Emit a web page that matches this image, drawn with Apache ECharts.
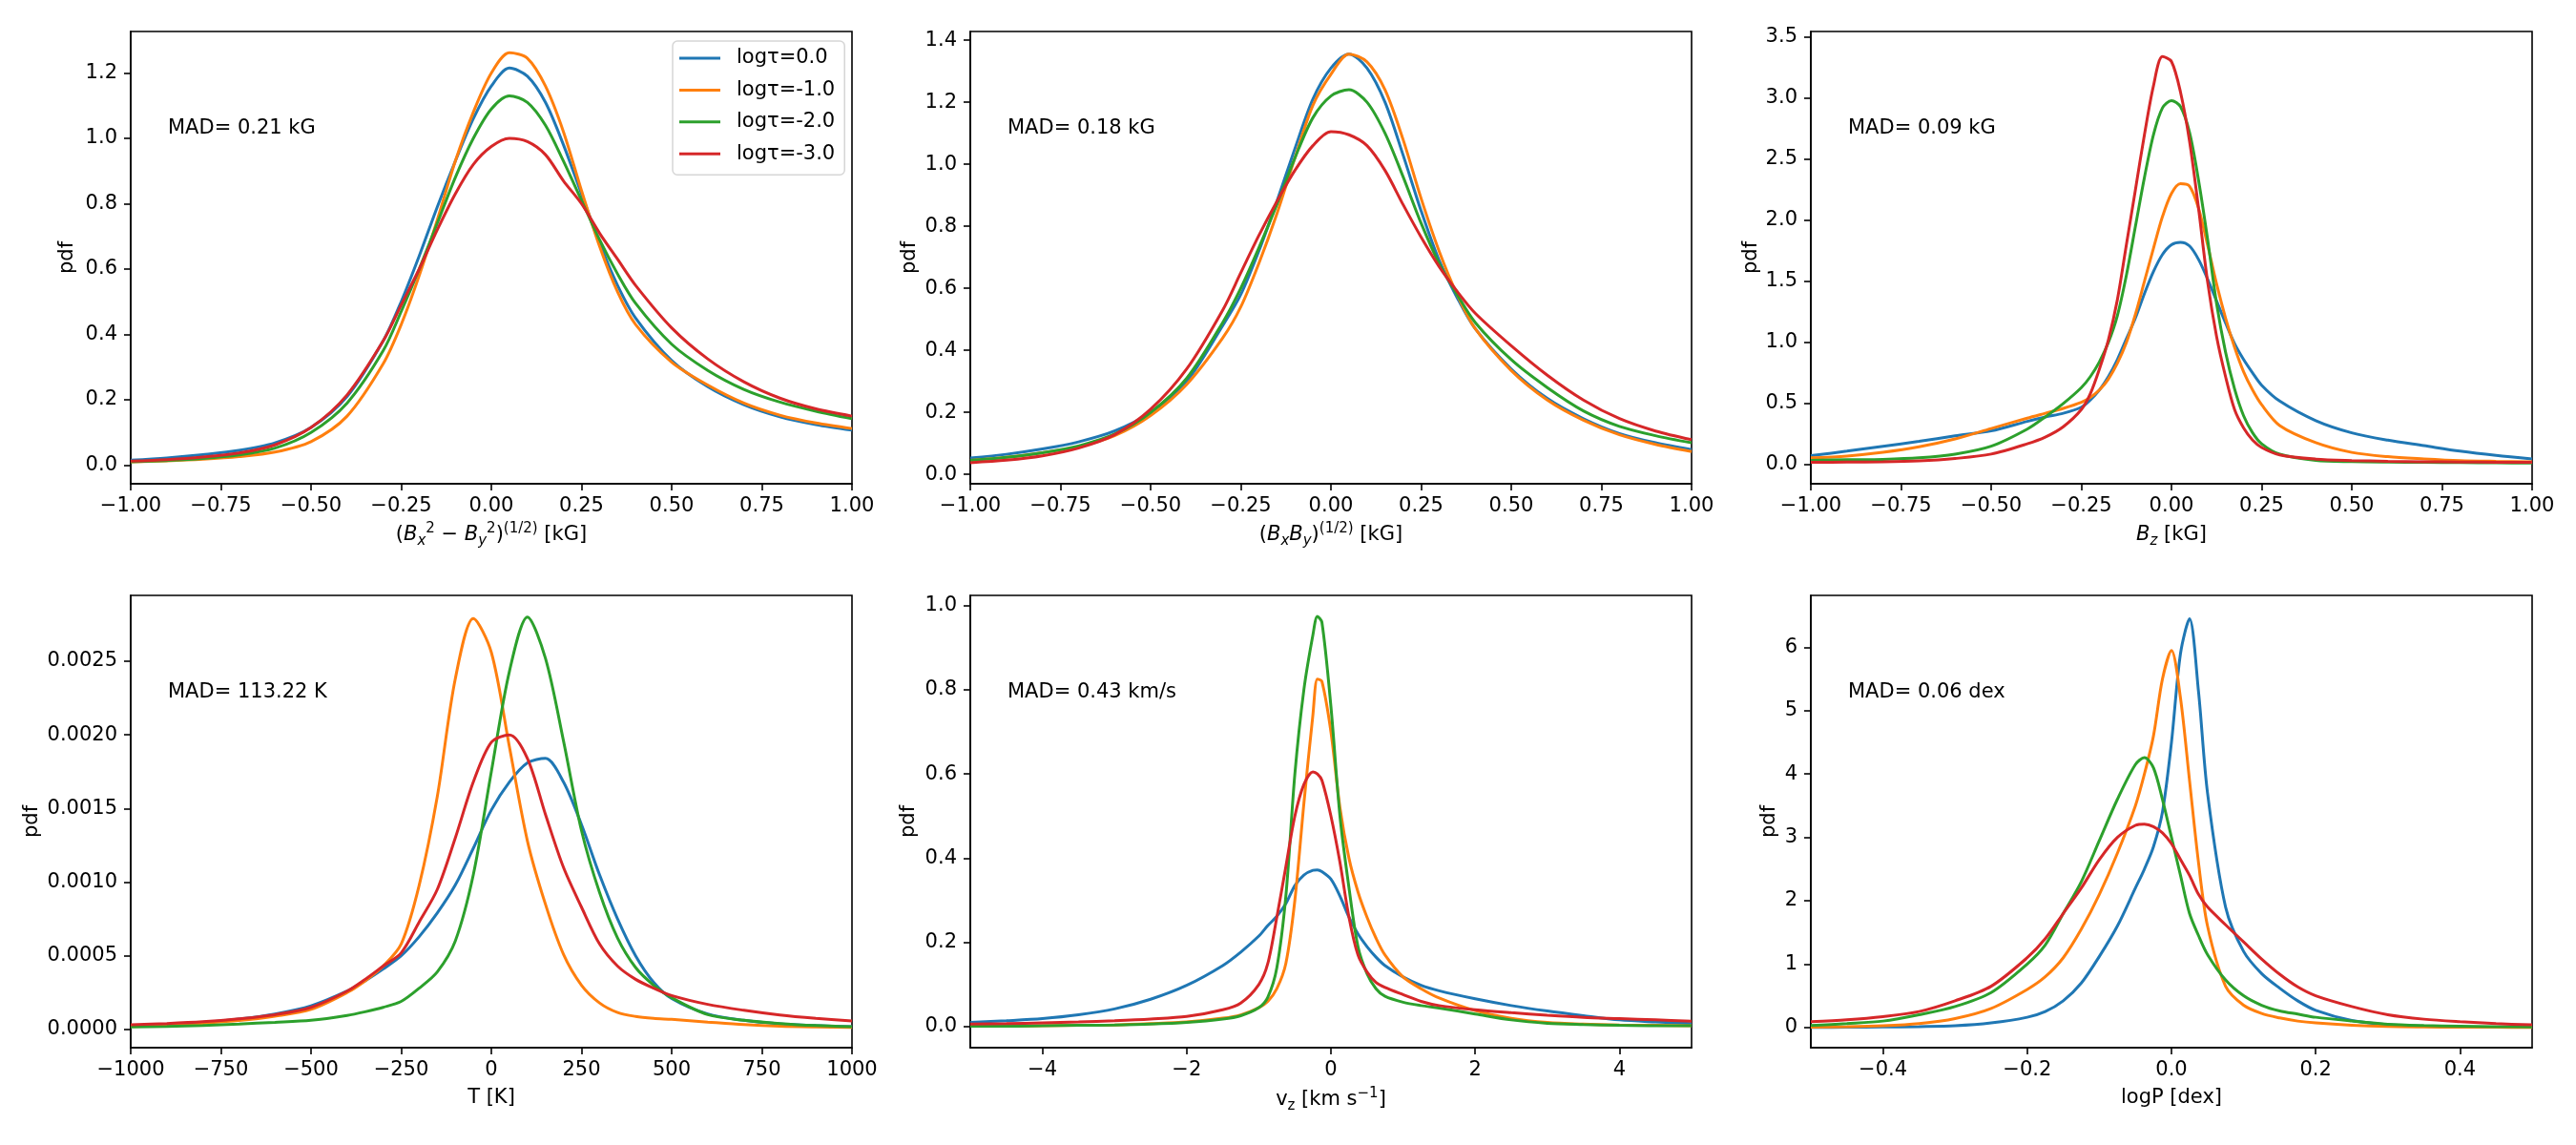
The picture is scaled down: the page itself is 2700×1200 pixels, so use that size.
<!DOCTYPE html>
<html>
<head>
<meta charset="utf-8">
<title>pdf per optical depth</title>
<script src="https://cdn.jsdelivr.net/npm/echarts@6/dist/echarts.min.js"></script>
<style>
  html, body { margin: 0; padding: 0; background: #fff; }
  #chart { width: 2700px; height: 1200px; }
</style>
</head>
<body>
<div id="chart"></div>
<script>
// legend + annotation text
const tauLabels = ['logτ=0.0', 'logτ=-1.0', 'logτ=-2.0', 'logτ=-3.0'];
const tauColors = ['#1f77b4', '#ff7f0e', '#2ca02c', '#d62728'];
const madLabels = ['MAD= 0.21 kG', 'MAD= 0.18 kG', 'MAD= 0.09 kG', 'MAD= 113.22 K', 'MAD= 0.43 km/s', 'MAD= 0.06 dex'];

// (Bx^2 - By^2)^(1/2) and (BxBy)^(1/2) share the same x grid
const bGridX = [-1.0, -0.9, -0.8, -0.7, -0.6, -0.5, -0.4, -0.3, -0.25, -0.2, -0.15, -0.1, -0.05, 0.0,
  0.05, 0.1, 0.15, 0.2, 0.25, 0.3, 0.35, 0.4, 0.5, 0.6, 0.7, 0.8, 0.9, 1.0];
const bPerpTau0 = [0.015, 0.022, 0.032, 0.045, 0.068, 0.115, 0.21, 0.38, 0.50, 0.64, 0.79, 0.93, 1.06, 1.16,
  1.215, 1.19, 1.11, 0.98, 0.83, 0.68, 0.55, 0.45, 0.32, 0.24, 0.185, 0.148, 0.124, 0.107];
const bPerpTau1 = [0.010, 0.013, 0.018, 0.026, 0.040, 0.072, 0.15, 0.31, 0.43, 0.58, 0.75, 0.93, 1.08, 1.20,
  1.262, 1.245, 1.16, 1.02, 0.84, 0.67, 0.53, 0.43, 0.315, 0.245, 0.19, 0.153, 0.129, 0.112];
const bPerpTau2 = [0.010, 0.014, 0.020, 0.031, 0.052, 0.100, 0.19, 0.35, 0.47, 0.60, 0.74, 0.88, 1.00, 1.09,
  1.13, 1.11, 1.04, 0.93, 0.81, 0.69, 0.585, 0.495, 0.37, 0.29, 0.232, 0.193, 0.165, 0.142];
const bPerpTau3 = [0.012, 0.017, 0.025, 0.037, 0.062, 0.115, 0.215, 0.38, 0.49, 0.60, 0.72, 0.83, 0.92, 0.975,
  1.0, 0.99, 0.95, 0.87, 0.80, 0.71, 0.63, 0.55, 0.42, 0.325, 0.255, 0.205, 0.172, 0.150];

const bxbyTau0 = [0.053, 0.065, 0.082, 0.105, 0.14, 0.20, 0.30, 0.48, 0.58, 0.72, 0.88, 1.05, 1.21, 1.31,
  1.355, 1.31, 1.20, 1.03, 0.85, 0.69, 0.57, 0.47, 0.34, 0.245, 0.18, 0.132, 0.102, 0.080];
const bxbyTau1 = [0.045, 0.055, 0.07, 0.09, 0.125, 0.19, 0.29, 0.44, 0.54, 0.68, 0.84, 1.02, 1.19, 1.29,
  1.355, 1.33, 1.24, 1.08, 0.89, 0.72, 0.58, 0.47, 0.335, 0.24, 0.175, 0.128, 0.097, 0.074];
const bxbyTau2 = [0.045, 0.055, 0.07, 0.092, 0.13, 0.20, 0.31, 0.49, 0.60, 0.73, 0.87, 1.02, 1.15, 1.22,
  1.24, 1.20, 1.10, 0.96, 0.81, 0.68, 0.58, 0.49, 0.37, 0.28, 0.205, 0.155, 0.125, 0.102];
const bxbyTau3 = [0.038, 0.046, 0.06, 0.085, 0.128, 0.21, 0.34, 0.53, 0.65, 0.77, 0.88, 0.98, 1.06, 1.105,
  1.095, 1.06, 0.98, 0.87, 0.765, 0.67, 0.59, 0.52, 0.415, 0.32, 0.24, 0.18, 0.14, 0.112];

// Bz
const bzX = [-1, -0.9, -0.8, -0.7, -0.6, -0.5, -0.4, -0.35, -0.3, -0.25, -0.225, -0.2,
  -0.175, -0.15, -0.125, -0.1, -0.075, -0.05, -0.025, 0,
  0.025, 0.05, 0.075, 0.1, 0.125, 0.15, 0.175, 0.2, 0.225, 0.25,
  0.3, 0.4, 0.5, 0.6, 0.7, 0.8, 0.9, 1.0];
const bzTau0 = [0.073, 0.11, 0.15, 0.19, 0.235, 0.276, 0.354, 0.39, 0.42, 0.47, 0.53, 0.61,
  0.72, 0.86, 1.03, 1.2, 1.4, 1.58, 1.72, 1.8,
  1.82, 1.79, 1.68, 1.52, 1.34, 1.16, 0.99, 0.86, 0.75, 0.65,
  0.52, 0.36, 0.26, 0.2, 0.155, 0.11, 0.075, 0.047];
const bzTau1 = [0.055, 0.07, 0.1, 0.145, 0.21, 0.295, 0.38, 0.42, 0.46, 0.51, 0.55, 0.61,
  0.7, 0.83, 1.0, 1.23, 1.5, 1.77, 2.03, 2.22,
  2.3, 2.28, 2.1, 1.8, 1.48, 1.2, 0.96, 0.76, 0.61, 0.49,
  0.32, 0.18, 0.1, 0.065, 0.047, 0.033, 0.027, 0.023];
const bzTau2 = [0.035, 0.04, 0.043, 0.055, 0.085, 0.15, 0.29, 0.39, 0.5, 0.63, 0.72, 0.84,
  1.0, 1.22, 1.55, 1.95, 2.35, 2.7, 2.92, 2.98,
  2.93, 2.72, 2.33, 1.85, 1.32, 0.92, 0.62, 0.4, 0.26, 0.17,
  0.085, 0.035, 0.024, 0.02, 0.018, 0.016, 0.014, 0.012];
const bzTau3 = [0.018, 0.02, 0.022, 0.03, 0.05, 0.086, 0.17, 0.225, 0.31, 0.45, 0.58, 0.78,
  1.02, 1.35, 1.8, 2.25, 2.7, 3.1, 3.34, 3.3,
  3.05, 2.65, 2.1, 1.5, 1.05, 0.72, 0.45, 0.3, 0.2, 0.14,
  0.08, 0.045, 0.033, 0.027, 0.023, 0.021, 0.019, 0.018];

// T
const tempX = [-1000, -900, -800, -700, -600, -500, -400, -350, -300, -250, -200, -150, -100, -50, 0,
  50, 100, 150, 200, 250, 300, 350, 400, 450, 500, 600, 700, 800, 900, 1000];
const tempTau0 = [0.000025, 0.000034, 0.000047, 0.00007, 0.000105, 0.00016, 0.00026, 0.00033, 0.00041, 0.0005,
  0.00063, 0.00079, 0.00098, 0.00123, 0.00149, 0.00168, 0.00181, 0.00184, 0.00168, 0.00139,
  0.00105, 0.00075, 0.0005, 0.00032, 0.00021, 0.000105, 0.000062, 0.000038, 0.000026, 0.000018];
const tempTau1 = [0.00002, 0.000028, 0.000042, 0.00006, 0.00009, 0.000136, 0.00025, 0.00033, 0.00043, 0.00058,
  0.00098, 0.00158, 0.00238, 0.00279, 0.00256, 0.00192, 0.00128, 0.00085, 0.00051, 0.0003,
  0.00018, 0.000115, 0.000088, 0.000075, 0.000068, 0.00005, 0.000033, 0.000022, 0.000017, 0.000014];
const tempTau2 = [0.000017, 0.00002, 0.000027, 0.000037, 0.000048, 0.000062, 0.000095, 0.00012, 0.00015, 0.00019,
  0.00028, 0.00039, 0.0006, 0.00105, 0.00175, 0.00243, 0.0028, 0.00252, 0.00196, 0.00135,
  0.00093, 0.00062, 0.00042, 0.0003, 0.000215, 0.0001, 0.000062, 0.00004, 0.000026, 0.000018];
const tempTau3 = [0.000032, 0.00004, 0.000052, 0.000072, 0.0001, 0.00015, 0.00026, 0.00034, 0.00043, 0.00052,
  0.00073, 0.00095, 0.0013, 0.00168, 0.00195, 0.002, 0.00184, 0.00146, 0.0011, 0.00083,
  0.00058, 0.00043, 0.00034, 0.00028, 0.00023, 0.00017, 0.00013, 0.000098, 0.000075, 0.000057];

// vz
const vzX = [-5, -4.5, -4, -3.5, -3, -2.5, -2, -1.5,
  -1.25, -1, -0.875, -0.75, -0.625, -0.5, -0.375, -0.25, -0.1875, -0.125,
  0, 0.125, 0.25, 0.375, 0.5, 0.625, 0.75,
  1, 1.25, 1.5, 2, 2.5, 3, 3.5, 4, 4.5, 5];
const vzTau0 = [0.01, 0.014, 0.019, 0.028, 0.042, 0.065, 0.098, 0.145,
  0.177, 0.215, 0.24, 0.262, 0.292, 0.335, 0.36, 0.371, 0.372, 0.368,
  0.35, 0.31, 0.26, 0.22, 0.19, 0.165, 0.145,
  0.118, 0.098, 0.085, 0.066, 0.05, 0.037, 0.026, 0.016, 0.011, 0.007];
const vzTau1 = [0.001, 0.001, 0.002, 0.003, 0.004, 0.007, 0.011, 0.02,
  0.028, 0.045, 0.06, 0.09, 0.15, 0.3, 0.53, 0.74, 0.825, 0.82,
  0.7, 0.52, 0.4, 0.32, 0.26, 0.21, 0.17,
  0.118, 0.09, 0.068, 0.038, 0.02, 0.01, 0.006, 0.004, 0.003, 0.002];
const vzTau2 = [0.001, 0.001, 0.002, 0.003, 0.004, 0.006, 0.01, 0.018,
  0.026, 0.045, 0.07, 0.14, 0.31, 0.6, 0.8, 0.93, 0.974, 0.96,
  0.76, 0.5, 0.33, 0.19, 0.126, 0.09, 0.072,
  0.058, 0.05, 0.044, 0.03, 0.016, 0.008, 0.005, 0.003, 0.002, 0.002];
const vzTau3 = [0.006, 0.007, 0.009, 0.011, 0.014, 0.018, 0.024, 0.04,
  0.056, 0.1, 0.15, 0.26, 0.38, 0.5, 0.575, 0.605, 0.6, 0.585,
  0.5, 0.39, 0.26, 0.17, 0.13, 0.105, 0.093,
  0.076, 0.06, 0.05, 0.04, 0.033, 0.027, 0.022, 0.019, 0.016, 0.013];

// logP
const logpX = [-0.5, -0.45, -0.4, -0.35, -0.3, -0.25, -0.2,
  -0.175, -0.15, -0.125, -0.1, -0.075,
  -0.05, -0.0375, -0.025, -0.0125, 0, 0.0125, 0.025, 0.0375, 0.05,
  0.075, 0.1, 0.125, 0.15, 0.175, 0.2,
  0.25, 0.3, 0.35, 0.4, 0.45, 0.5];
const logpTau0 = [0.0, 0.003, 0.006, 0.012, 0.025, 0.07, 0.16,
  0.25, 0.42, 0.7, 1.12, 1.6,
  2.2, 2.5, 2.85, 3.4, 4.5, 5.9, 6.45, 5.3, 3.7,
  1.9, 1.2, 0.85, 0.62, 0.42, 0.27,
  0.11, 0.045, 0.018, 0.008, 0.004, 0.002];
const logpTau1 = [0.005, 0.01, 0.025, 0.06, 0.14, 0.3, 0.6,
  0.8, 1.1, 1.55, 2.1, 2.75,
  3.5, 4.0, 4.6, 5.5, 5.95, 5.2, 3.9, 2.6, 1.6,
  0.65, 0.35, 0.22, 0.15, 0.1, 0.07,
  0.035, 0.015, 0.008, 0.004, 0.002, 0.001];
const logpTau2 = [0.03, 0.06, 0.1, 0.2, 0.33, 0.55, 1.0,
  1.3, 1.8, 2.3, 2.95, 3.6,
  4.15, 4.26, 4.1, 3.6, 3.0, 2.4, 1.8, 1.45, 1.15,
  0.75, 0.5, 0.35, 0.26, 0.21, 0.16,
  0.1, 0.05, 0.03, 0.02, 0.012, 0.008];
const logpTau3 = [0.09, 0.12, 0.17, 0.25, 0.42, 0.65, 1.1,
  1.4, 1.8, 2.2, 2.65, 3.0,
  3.19, 3.21, 3.17, 3.07, 2.9, 2.65, 2.4, 2.1, 1.9,
  1.62, 1.35, 1.08, 0.84, 0.64, 0.5,
  0.33, 0.2, 0.13, 0.09, 0.06, 0.04];

// tick values
const bTicks = [-1, -0.75, -0.5, -0.25, 0, 0.25, 0.5, 0.75, 1];
const tempTicks = [-1000, -750, -500, -250, 0, 250, 500, 750, 1000];
const vzTicks = [-4, -2, 0, 2, 4];
const logpTicks = [-0.4, -0.2, 0, 0.2, 0.4];
const bPerpYTicks = [0, 0.2, 0.4, 0.6, 0.8, 1.0, 1.2];
const bxbyYTicks = [0, 0.2, 0.4, 0.6, 0.8, 1.0, 1.2, 1.4];
const bzYTicks = [0, 0.5, 1.0, 1.5, 2.0, 2.5, 3.0, 3.5];
const tempYTicks = [0, 0.0005, 0.001, 0.0015, 0.002, 0.0025];
const vzYTicks = [0, 0.2, 0.4, 0.6, 0.8, 1.0];
const logpYTicks = [0, 1, 2, 3, 4, 5, 6];

// axis titles (rich text for sub/superscripts)
const xNames = [
  '({i|B}{sub|x}{sup|2} − {i|B}{sub|y}{sup|2}){sup|(1/2)} [kG]',
  '({i|B}{sub|x}{i|B}{sub|y}){sup|(1/2)} [kG]',
  '{i|B}{sub|z} [kG]',
  'T [K]',
  'v{subr|z} [km s{sup|−1}]',
  'logP [dex]'
];

const panelX = [bGridX, bGridX, bzX, tempX, vzX, logpX];
const panelY = [
  [bPerpTau0, bPerpTau1, bPerpTau2, bPerpTau3],
  [bxbyTau0, bxbyTau1, bxbyTau2, bxbyTau3],
  [bzTau0, bzTau1, bzTau2, bzTau3],
  [tempTau0, tempTau1, tempTau2, tempTau3],
  [vzTau0, vzTau1, vzTau2, vzTau3],
  [logpTau0, logpTau1, logpTau2, logpTau3]
];
const xLimits = [[-1, 1], [-1, 1], [-1, 1], [-1000, 1000], [-5, 5], [-0.5, 0.5]];
const yLimits = [[-0.057, 1.327], [-0.03, 1.428], [-0.157, 3.546], [-0.000124, 0.002947], [-0.05, 1.024], [-0.32, 6.82]];
const xTickSets = [bTicks, bTicks, bTicks, tempTicks, vzTicks, logpTicks];
const yTickSets = [bPerpYTicks, bxbyYTicks, bzYTicks, tempYTicks, vzYTicks, logpYTicks];
const xDecimals = [2, 2, 2, 0, 0, 1];
const yDecimals = [1, 1, 1, 4, 1, 0];
const yNameGaps = [56, 53, 52, 93, 54, 33];
const xNameGaps = [40, 40, 40, 39, 41, 39];

// layout (px)
const FONT = 'DejaVu Sans';
const FS = 21;
const GRID_LEFT = [137, 1017, 1898];
const GRID_TOP = [33, 624];
const GRID_W = 756;
const GRID_H = 474;
const MAD_DY = [102, 102];

const fmt = (d) => (v) => Number(v).toFixed(d).replace('-', '\u2212');

const richStyles = {
  i: { fontFamily: FONT, fontSize: FS, fontStyle: 'italic', color: '#000', lineHeight: 28 },
  sub: { fontFamily: FONT, fontSize: 15, fontStyle: 'italic', color: '#000', verticalAlign: 'bottom', lineHeight: 14 },
  subr: { fontFamily: FONT, fontSize: 15, color: '#000', verticalAlign: 'bottom', lineHeight: 14 },
  sup: { fontFamily: FONT, fontSize: 15, color: '#000', verticalAlign: 'top', lineHeight: 14 }
};

const grids = [], xAxes = [], yAxes = [], series = [], graphics = [];

for (let p = 0; p < 6; p++) {
  const col = p % 3, row = Math.floor(p / 3);
  grids.push({
    left: GRID_LEFT[col], top: GRID_TOP[row], width: GRID_W, height: GRID_H,
    show: true, borderColor: '#000', borderWidth: 1.6, backgroundColor: 'transparent'
  });
  xAxes.push({
    type: 'value', gridIndex: p, min: xLimits[p][0], max: xLimits[p][1],
    name: xNames[p], nameLocation: 'middle', nameGap: xNameGaps[p],
    nameTextStyle: { fontFamily: FONT, fontSize: FS, color: '#000', lineHeight: 28, rich: richStyles },
    axisLine: { show: true, onZero: false, lineStyle: { color: '#000', width: 1.6 } },
    axisTick: { show: true, length: 7, customValues: xTickSets[p], lineStyle: { color: '#000', width: 1.6 } },
    axisLabel: { customValues: xTickSets[p], formatter: fmt(xDecimals[p]), margin: 13,
      fontFamily: FONT, fontSize: FS, color: '#000' },
    splitLine: { show: false }
  });
  yAxes.push({
    type: 'value', gridIndex: p, min: yLimits[p][0], max: yLimits[p][1],
    name: 'pdf', nameLocation: 'middle', nameRotate: 90, nameGap: yNameGaps[p],
    nameTextStyle: { fontFamily: FONT, fontSize: FS, color: '#000' },
    axisLine: { show: true, onZero: false, lineStyle: { color: '#000', width: 1.6 } },
    axisTick: { show: true, length: 7, customValues: yTickSets[p], lineStyle: { color: '#000', width: 1.6 } },
    axisLabel: { customValues: yTickSets[p], formatter: fmt(yDecimals[p]), margin: 14,
      fontFamily: FONT, fontSize: FS, color: '#000' },
    splitLine: { show: false }
  });
  panelY[p].forEach((ys, k) => {
    series.push({
      type: 'line', name: tauLabels[k], xAxisIndex: p, yAxisIndex: p,
      data: panelX[p].map((x, j) => [x, ys[j]]),
      showSymbol: false, symbol: 'none',
      smooth: 0.3,
      color: tauColors[k],
      lineStyle: { width: 3, color: tauColors[k] },
      z: 2 + k
    });
  });
  graphics.push({
    type: 'text', x: GRID_LEFT[col] + 39, y: GRID_TOP[row] + MAD_DY[row],
    style: { text: madLabels[p], fontFamily: FONT, fontSize: FS, fill: '#000', verticalAlign: 'middle' }
  });
}

const chart = echarts.init(document.getElementById('chart'));
chart.setOption({
  animation: false,
  backgroundColor: '#fff',
  grid: grids,
  xAxis: xAxes,
  yAxis: yAxes,
  legend: {
    data: tauLabels,
    orient: 'vertical',
    left: 705, top: 43,
    icon: 'rect', itemWidth: 43, itemHeight: 3, itemGap: 9.4,
    padding: [6, 10, 10, 7],
    backgroundColor: '#fff', borderColor: '#d6d6d6', borderWidth: 1.5, borderRadius: 5,
    textStyle: { fontFamily: FONT, fontSize: FS, color: '#000', lineHeight: 24, padding: [0, 0, 0, 12] }
  },
  graphic: graphics,
  series: series
});
</script>
</body>
</html>
